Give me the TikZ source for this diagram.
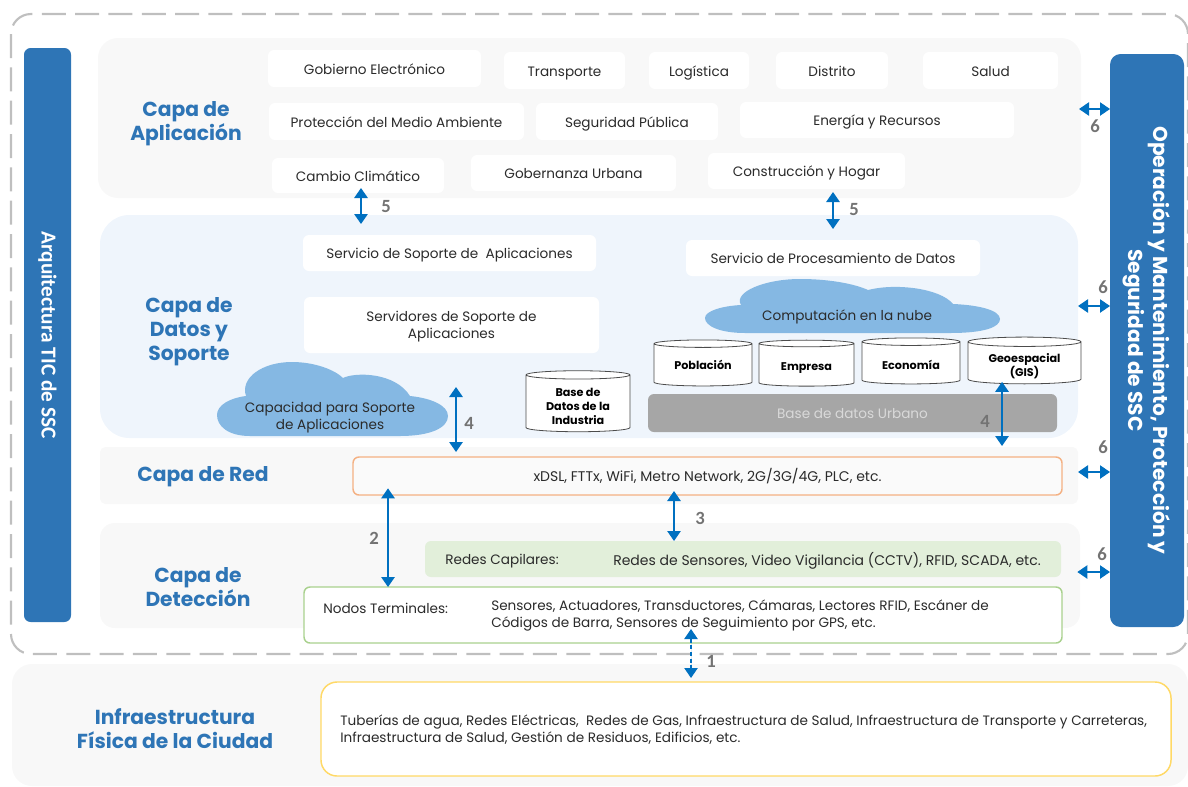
\documentclass[tikz,border=0pt]{standalone}
\usepackage{fontspec}
\setmainfont{Poppins}
\newfontfamily\numfont{Carlito}
\usetikzlibrary{arrows.meta,shapes.geometric}
\definecolor{azul}{HTML}{2E75B6}
\definecolor{flecha}{HTML}{0070C0}
\definecolor{nube}{HTML}{85B8E3}
\definecolor{fondo}{HTML}{F8F8F8}
\definecolor{fondodatos}{HTML}{EFF5FC}
\definecolor{texto}{HTML}{2B2B2B}
\definecolor{verdeclaro}{HTML}{E2EFDA}
\definecolor{bordeverde}{HTML}{A9D18E}
\definecolor{bordenaranja}{HTML}{F4B183}
\definecolor{bordeamarillo}{HTML}{FFD966}
\newcommand{\baja}[1]{\rule{0pt}{#1pt}}
\tikzset{
  sz/.style 2 args={minimum width=#1*0.75pt,minimum height=#2*0.75pt,inner sep=0pt,outer sep=0pt},
  capa/.style={fill=#1,rounded corners=15pt},
  caja/.style={fill=white,rounded corners=4.5pt,font=\fontsize{10.2}{12.75}\selectfont,text=texto,align=center,text height=10.5pt,text depth=2pt},
  linea/.style={caja,line width=1.1pt,draw=#1},
  titulo/.style={font=\fontsize{15.2}{18}\selectfont\bfseries,text=azul,align=center,inner sep=0pt},
  barra/.style={fill=azul,text=white,rotate=-90,align=center},
  bd/.style={cylinder,shape border rotate=90,shape aspect=0.13,draw=black!70,fill=white,line width=0.6pt,
    font=\fontsize{8.4}{10.5}\selectfont\bfseries,text=black,align=center,inner sep=0pt,outer sep=0pt},
  textoplano/.style={font=\fontsize{10.2}{12.75}\selectfont,text=texto,align=left,inner sep=0pt},
  doble/.style={{Triangle[length=7.5pt,width=10pt]}-{Triangle[length=7.5pt,width=10pt]},draw=flecha,fill=flecha,line width=1.4pt},
  num/.style={font=\numfont\fontsize{14}{16}\selectfont\bfseries,text=black!55,inner sep=0pt}
}
\begin{document}
\begin{tikzpicture}[x=0.75pt,y=-0.75pt]
\useasboundingbox (0,0) rectangle (1188,786);

\draw [black!25,line width=1.6pt,dash pattern=on 18pt off 7pt,rounded corners=15pt] (11,14) rectangle (1188,654);
\node [capa=fondo,sz={1176}{122}] (capainfra) at (600,725) {};

\node [barra,sz={574}{47},rounded corners=5pt,font=\numfont\fontsize{16}{18}\selectfont\bfseries] (barraizq) at (47.5,335) {Arquitectura TIC de SSC};
\node [barra,sz={573}{74},rounded corners=8pt,font=\fontsize{15.1}{18.75}\selectfont\bfseries] (barrader) at (1147,340.5) {Operación y Mantenimiento, Protección y\\Seguridad de SSC};

\node [capa=fondo,sz={983}{160}] (capaapl) at (589.5,118) {};
\node [capa=fondodatos,sz={978}{223},rounded corners=22pt] (capadatos) at (589,326.5) {};
\node [capa=fondo,sz={978}{57},rounded corners=4pt] (capared) at (589,475.5) {};
\node [capa=fondo,sz={980}{105},rounded corners=11pt] (capadet) at (590,575.5) {};

\node [titulo] (tapl) at (186,124) {Capa de\\Aplicación};
\node [titulo] (tdatos) at (189,332) {Capa de\\Datos y\\Soporte};
\node [titulo] (tred) at (203,477) {Capa de Red};
\node [titulo] (tdet) at (198,587.5) {Capa de\\Detección};
\node [titulo] (tinfra) at (175,728.5) {Infraestructura\\Física de la Ciudad};

\node [caja,sz={213}{37}] (gobierno) at (374.5,68.5) {Gobierno Electrónico};
\node [caja,sz={121}{37}] (transporte) at (564.5,70.5) {Transporte};
\node [caja,sz={100}{37}] (logistica) at (699,70.5) {Logística};
\node [caja,sz={112}{37}] (distrito) at (832,70.5) {Distrito};
\node [caja,sz={135}{37}] (salud) at (990.5,70.5) {Salud};
\node [caja,sz={255}{37}] (proteccion) at (396.5,121.5) {Protección del Medio Ambiente};
\node [caja,sz={182}{37}] (seguridad) at (627,121.5) {Seguridad Pública};
\node [caja,sz={274}{36}] (energia) at (877,120) {Energía y Recursos};
\node [caja,sz={172}{35}] (cambio) at (358,175.5) {Cambio Climático};
\node [caja,sz={205}{36}] (gobernanza) at (573.5,173) {Gobernanza Urbana};
\node [caja,sz={197}{36}] (construccion) at (806.5,171) {Construcción y Hogar};

\node [caja,sz={293}{36}] (servsoporte) at (449.5,253) {Servicio de Soporte de~ Aplicaciones};
\node [caja,sz={295}{56}] (servidores) at (451.5,325) {};
\node [textoplano,align=center] (servidorestxt) at (451.5,327) {Servidores de Soporte de\\Aplicaciones};
\node [caja,sz={294}{36}] (servproc) at (833,258) {Servicio de Procesamiento de Datos};

\fill [nube] (745,333) .. controls (720,333) and (705,326) .. (705,318) .. controls (705,311) and (722,306) .. (741,305) .. controls (733,292) and (765,279) .. (800,279) .. controls (830,279) and (855,284) .. (868,290) .. controls (895,283) and (940,288) .. (953,304) .. controls (978,305) and (1000,310) .. (1000,319) .. controls (1000,327) and (985,333) .. (950,333) -- cycle;
\node [textoplano,align=center] (nubecomp) at (847,317) {Computación en la nube};

\fill [nube] (250,436) .. controls (228,436) and (217,426) .. (217,415) .. controls (217,405) and (230,398) .. (246,396) .. controls (240,378) and (262,362) .. (292,362) .. controls (315,362) and (335,370) .. (343,378) .. controls (355,372) and (395,372) .. (410,396) .. controls (430,398) and (448,405) .. (448,416) .. controls (448,428) and (430,436) .. (400,436) -- cycle;
\node [textoplano,align=center] (nubesoporte) at (330,417.5) {Capacidad para Soporte\\de Aplicaciones};

\node [bd,minimum width=98*0.75pt,minimum height=46*0.75pt] (poblacion) at (703,365) {Población};
\node [bd,minimum width=95*0.75pt,minimum height=46*0.75pt] (empresa) at (806.5,365) {\baja{11}Empresa};
\node [bd,minimum width=98*0.75pt,minimum height=46*0.75pt] (economia) at (911,363) {\baja{10}Economía};
\node [bd,minimum width=113*0.75pt,minimum height=46*0.75pt] (geo) at (1024.5,363) {\baja{12}Geoespacial\\(GIS)};
\node [bd,minimum width=104*0.75pt,minimum height=61*0.75pt] (industria) at (578,403.5) {\baja{10}Base de\\Datos de la\\Industria};

\node [caja,sz={409}{38},fill=black!35,text=white!85!black] (urbano) at (852.5,413) {Base de datos Urbano};

\node [linea=bordenaranja,sz={709}{38},fill=white!98!black,font=\fontsize{10.5}{12.75}\selectfont] (red) at (707.5,476) {xDSL, FTTx, WiFi, Metro Network, 2G/3G/4G, PLC, etc.};
\node [caja,sz={636}{36},fill=verdeclaro] (capilares) at (743,559) {};
\node [textoplano] (rcap1) at (502,561) {Redes Capilares:};
\node [textoplano,font=\fontsize{10.5}{12.75}\selectfont] (rcap2) at (827,561) {Redes de Sensores, Video Vigilancia (CCTV), RFID, SCADA, etc.};
\node [linea=bordeverde,sz={758}{56}] (nodos) at (683,615) {};
\node [textoplano,anchor=west] (nod1) at (323,608) {Nodos Terminales:};
\node [textoplano,anchor=north west] (nod2) at (491,600) {Sensores, Actuadores, Transductores, Cámaras, Lectores RFID, Escáner de\\Códigos de Barra, Sensores de Seguimiento por GPS, etc.};
\node [linea=bordeamarillo,sz={850}{94},rounded corners=12pt] (infra) at (746,729) {};
\node [textoplano,anchor=west] (inf1) at (340,730) {Tuberías de agua, Redes Eléctricas,~ Redes de Gas, Infraestructura de Salud, Infraestructura de Transporte y Carreteras,\\Infraestructura de Salud, Gestión de Residuos, Edificios, etc.};

\coordinate (p1) at (691,650);
\coordinate (p2) at (388,540);
\coordinate (p3) at (674,515);
\coordinate (p4a) at (456,387);
\coordinate (p4b) at (1002,420);
\coordinate (p5a) at (361,200);
\coordinate (p5b) at (833,200);
\coordinate (p6a) at (1095,109);
\coordinate (p6b) at (1095,306);
\coordinate (p6c) at (1095,472);
\coordinate (p6d) at (1095,572);

\draw [doble,densely dashed,line width=1pt] (p1 |- nodos.south) [shorten <=-10.5pt,shorten >=3pt] -- (p1 |- infra.north);
\draw [doble] (p2 |- red.south) [shorten <=-5pt] -- (p2 |- nodos.north);
\draw [doble,line width=1.2pt] (p3 |- red.south) [shorten <=-3pt] -- (p3 |- capilares.north);
\draw [doble] (p4a) [shorten >=3.75pt] -- (p4a |- red.north);
\draw [doble] (p4b |- geo.south) [shorten >=8.25pt,shorten <=-1.5pt] -- (p4b |- red.north);
\draw [doble] (p5a |- cambio.south) [shorten <=-3.75pt,shorten >=8.25pt] -- (p5a |- servsoporte.north);
\draw [doble] (p5b |- construccion.south) [shorten <=2.25pt,shorten >=8.25pt] -- (p5b |- servproc.north);
\draw [doble,line width=1pt] (capaapl.east |- p6a) [shorten <=-1.5pt] -- (barrader.south |- p6a);
\draw [doble,line width=1pt] (capadatos.east |- p6b) -- (barrader.south |- p6b);
\draw [doble,line width=1pt] (capared.east |- p6c) -- (barrader.south |- p6c);
\draw [doble,line width=1pt] (capadet.east |- p6d) [shorten <=-2pt] -- (barrader.south |- p6d);

\node [num] (n1) at (711,661) {1};
\node [num] (n2) at (374,538) {2};
\node [num] (n3) at (700,518) {3};
\node [num] (n4a) at (469,423) {4};
\node [num] (n4b) at (985,421) {4};
\node [num] (n5a) at (386,207) {5};
\node [num] (n5b) at (854,210) {5};
\node [num] (n6a) at (1095,126) {6};
\node [num] (n6b) at (1103,287) {6};
\node [num] (n6c) at (1103,447) {6};
\node [num] (n6d) at (1102,554) {6};
\end{tikzpicture}
\end{document}
